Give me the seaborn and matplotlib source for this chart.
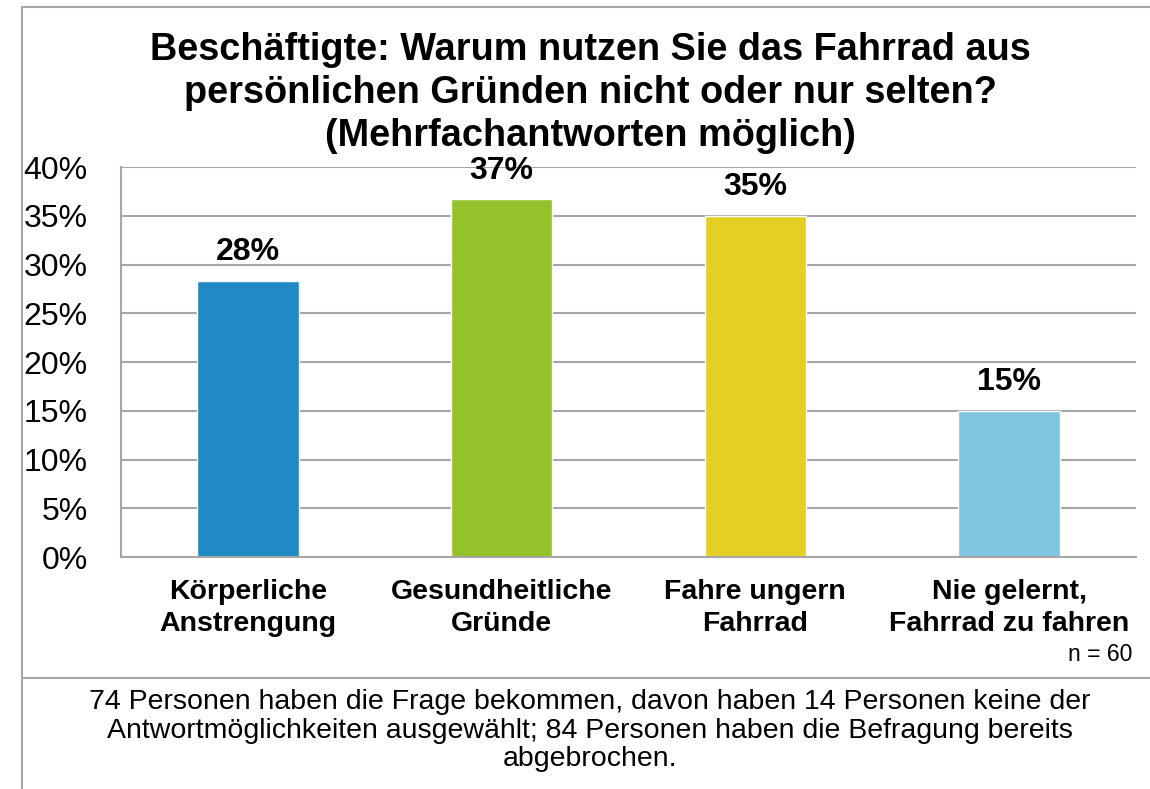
import pandas as pd
import matplotlib.pyplot as plt
import seaborn as sns
from matplotlib.lines import Line2D
from matplotlib.ticker import PercentFormatter

categories = ["Körperliche\nAnstrengung", "Gesundheitliche\nGründe",
              "Fahre ungern\nFahrrad", "Nie gelernt,\nFahrrad zu fahren"]
values = [28.3, 36.7, 35.0, 15.0]
labels = ["28%", "37%", "35%", "15%"]
colors = ["#1F8AC4", "#95C12B", "#E5CF24", "#7FC4E0"]

sns.set_style("white")
plt.rcParams['font.family'] = ['Liberation Sans', 'DejaVu Sans']
plt.rcParams['text.color'] = 'black'
plt.rcParams['xtick.color'] = 'black'
plt.rcParams['ytick.color'] = 'black'

df = pd.DataFrame({"cat": categories, "val": values})

fig = plt.figure(figsize=(11.5, 7.89), dpi=100)
ax = fig.add_axes([0.1052, 0.294, 0.8826, 0.4943])
sns.barplot(data=df, x="cat", y="val", hue="cat", palette=colors,
            width=0.4, legend=False, ax=ax, saturation=1)

ax.set_ylim(0, 40)
ax.set_xlim(-0.5, 3.5)
ax.set_yticks(range(0, 41, 5))
ax.yaxis.set_major_formatter(PercentFormatter(decimals=0))
ax.grid(axis="y", color="#A6A6A6", lw=1.5)
ax.set_axisbelow(True)
for s in ["right", "top"]:
    ax.spines[s].set_visible(False)
for s in ["left", "bottom"]:
    ax.spines[s].set_color("#A6A6A6")
    ax.spines[s].set_linewidth(1.5)
ax.tick_params(axis="y", labelsize=23, length=0, pad=24)
ax.tick_params(axis="x", labelsize=20.5, length=0, pad=16)
for t in ax.get_xticklabels():
    t.set_fontweight("bold")
    t.set_linespacing(1.3)
ax.set_xlabel("")
ax.set_ylabel("")

for i, (v, lab) in enumerate(zip(values, labels)):
    ax.text(i, v + 1.4, lab, ha="center", va="bottom", fontsize=23, fontweight="bold")

fig.text(0.513, 0.882, "Beschäftigte: Warum nutzen Sie das Fahrrad aus\n"
         "persönlichen Gründen nicht oder nur selten?\n(Mehrfachantworten möglich)",
         ha="center", va="center", fontsize=27.3, fontweight="bold", linespacing=1.24)

fig.text(0.985, 0.17, "n = 60", ha="right", va="center", fontsize=16.5)

fig.text(0.513, 0.074, "74 Personen haben die Frage bekommen, davon haben 14 Personen keine der\n"
         "Antwortmöglichkeiten ausgewählt; 84 Personen haben die Befragung bereits\nabgebrochen.",
         ha="center", va="center", fontsize=20.5, linespacing=1.14)

fc = "#A6A6A6"
fig.add_artist(Line2D([0.019, 0.019], [0, 0.991], color=fc, lw=1.5))
fig.add_artist(Line2D([0.019, 1], [0.991, 0.991], color=fc, lw=1.5))
fig.add_artist(Line2D([0.019, 1], [0.141, 0.141], color=fc, lw=1.5))

fig.savefig("out.png", dpi=100)
